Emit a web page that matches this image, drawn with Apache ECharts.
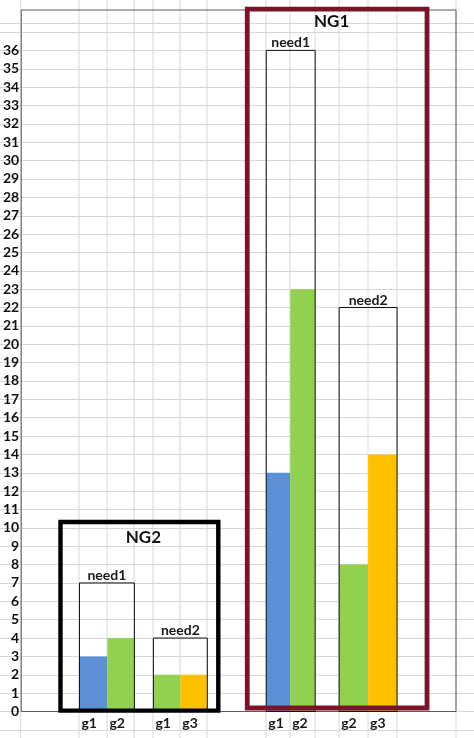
<!DOCTYPE html>
<html>
<head>
<meta charset="utf-8">
<script src="https://cdn.jsdelivr.net/npm/echarts@6/dist/echarts.min.js"></script>
<style>
html, body { margin: 0; padding: 0; background: #fff; }
#chart { width: 474px; height: 738px; }
</style>
</head>
<body>
<div id="chart"></div>
<script>
// chart data
var groupNames = ['NG2', 'NG1'];
var needNames = ['need1', 'need2', 'need1', 'need2'];
var needValues = [7, 4, 36, 22];
var barNames = ['g1', 'g2', 'g1', 'g3', 'g1', 'g2', 'g2', 'g3'];
var barValues = [3, 4, 2, 2, 13, 23, 8, 14];
var yTickLabels = [];
for (var t = 0; t <= 36; t++) yTickLabels.push(String(t));

// layout: sheet column edges (px of the sheet) and where things sit
var colEdges = [20.7, 79, 107, 134, 153, 180, 207, 266, 290, 315, 339, 368, 397, 456];
var barCol = [1, 2, 4, 5, 7, 8, 10, 11];
var needCols = [[1, 3], [4, 6], [7, 9], [10, 12]];
var groupBox = [ // x0, x1, top, bottom (top/bottom in axis units)
  [60, 218, 10.32, 0.05],
  [247, 427, 38.25, 0.19]
];
var groupTitleY = [9.45, 37.55];
var groupTitleCols = [[1, 6], [7, 12]];
var barColors = ['#5b8fd6', '#92d050', '#92d050', '#ffc000', '#5b8fd6', '#92d050', '#92d050', '#ffc000'];
var groupColors = ['#000000', '#7a1428'];
var groupWidths = [4.4, 4.8];
var font = 'Lato, "Open Sans", "DejaVu Sans", sans-serif';

var chart = echarts.init(document.getElementById('chart'));

var barData = barValues.map(function (v, i) {
  return [colEdges[barCol[i]], colEdges[barCol[i] + 1], v];
});
var needData = needValues.map(function (v, i) {
  return [colEdges[needCols[i][0]], colEdges[needCols[i][1]], v];
});
var groupData = groupBox.map(function (b, i) {
  return [b[0], b[1], b[2], b[3], colEdges[groupTitleCols[i][0]], colEdges[groupTitleCols[i][1]], groupTitleY[i]];
});

var option = {
  animation: false,
  backgroundColor: '#fff',
  grid: [
    { left: 0, right: 0, top: 23, bottom: 8.14 }, // the sheet behind
    { left: 20.7, right: 18, top: 10, bottom: 26.5, show: true, z: 1.5,
      borderColor: '#5a5a5a', borderWidth: 1, backgroundColor: 'transparent' }
  ],
  xAxis: [
    { type: 'value', gridIndex: 0, min: 0, max: 474, show: false },
    { type: 'value', gridIndex: 1, min: 20.7, max: 456, show: false }
  ],
  yAxis: [
    { type: 'value', gridIndex: 0, min: -1, max: 37.5, interval: 1,
      axisLine: { show: false }, axisTick: { show: false }, axisLabel: { show: false },
      splitLine: { show: true, lineStyle: { color: '#d7d7d7', width: 1 } } },
    { type: 'value', gridIndex: 1, min: 0, max: 38.2, interval: 1,
      axisLine: { show: false }, axisTick: { show: false }, splitLine: { show: false },
      axisLabel: {
        interval: 0, margin: 2, color: '#111', fontFamily: font, fontWeight: 'bold', fontSize: 14,
        padding: [0, 0, 18.4, 0],
        formatter: function (v) {
          var i = Math.round(v);
          return i < yTickLabels.length ? yTickLabels[i] : '';
        }
      } }
  ],
  series: [
    { // sheet column lines
      type: 'custom', xAxisIndex: 0, yAxisIndex: 0, z: 1, silent: true,
      data: colEdges.map(function (x) { return [x]; }),
      renderItem: function (params, api) {
        var a = api.coord([api.value(0), 39]);
        var b = api.coord([api.value(0), -2]);
        return { type: 'line', shape: { x1: a[0], y1: a[1], x2: b[0], y2: b[1] },
          style: { stroke: '#d7d7d7', lineWidth: 1 } };
      }
    },
    { // bars
      type: 'custom', xAxisIndex: 1, yAxisIndex: 1, z: 2,
      data: barData,
      renderItem: function (params, api) {
        var i = params.dataIndex;
        var p0 = api.coord([api.value(0), api.value(2)]);
        var p1 = api.coord([api.value(1), 0]);
        return { type: 'group', children: [
          { type: 'rect', shape: { x: p0[0], y: p0[1], width: p1[0] - p0[0], height: p1[1] - p0[1] },
            style: { fill: barColors[i] } },
          { type: 'text', x: p0[0] + 2, y: p1[1] + 11.5,
            style: { text: barNames[i], fill: '#1a1a1a', font: 'bold 14px ' + font,
              textAlign: 'left', textVerticalAlign: 'middle' } }
        ] };
      }
    },
    { // need outlines
      type: 'custom', xAxisIndex: 1, yAxisIndex: 1, z: 3,
      data: needData,
      renderItem: function (params, api) {
        var i = params.dataIndex;
        var p0 = api.coord([api.value(0), api.value(2)]);
        var p1 = api.coord([api.value(1), 0]);
        return { type: 'group', children: [
          { type: 'rect', shape: { x: p0[0], y: p0[1], width: p1[0] - p0[0], height: p1[1] - p0[1] },
            style: { fill: 'none', stroke: '#111', lineWidth: 1 } },
          { type: 'text', x: (p0[0] + p1[0]) / 2, y: p0[1] - 7.5,
            style: { text: needNames[i], fill: '#1a1a1a', font: 'bold 14px ' + font,
              textAlign: 'center', textVerticalAlign: 'middle' } }
        ] };
      }
    },
    { // NG boxes
      type: 'custom', xAxisIndex: 1, yAxisIndex: 1, z: 4,
      data: groupData,
      renderItem: function (params, api) {
        var i = params.dataIndex;
        var p0 = api.coord([api.value(0), api.value(2)]);
        var p1 = api.coord([api.value(1), api.value(3)]);
        var t0 = api.coord([api.value(4), api.value(6)]);
        var t1 = api.coord([api.value(5), api.value(6)]);
        return { type: 'group', children: [
          { type: 'rect', shape: { x: p0[0], y: p0[1], width: p1[0] - p0[0], height: p1[1] - p0[1] },
            style: { fill: 'none', stroke: groupColors[i], lineWidth: groupWidths[i] } },
          { type: 'text', x: (t0[0] + t1[0]) / 2, y: t0[1],
            style: { text: groupNames[i], fill: '#111', font: 'bold 17px ' + font,
              textAlign: 'center', textVerticalAlign: 'middle' } }
        ] };
      }
    }
  ]
};
chart.setOption(option);
</script>
</body>
</html>
